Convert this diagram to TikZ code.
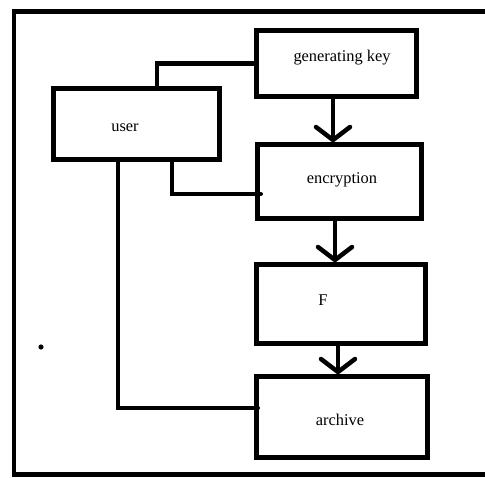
\documentclass[tikz,border=0pt]{standalone}
\usepackage{fontspec}
\setmainfont{Liberation Serif}
\usetikzlibrary{arrows.meta}
\begin{document}
\begin{tikzpicture}[x=1pt,y=1pt,
  box/.style={draw=black,line width=4.5pt,fill=none,inner sep=0pt,rectangle},
  lbl/.style={inner sep=0pt,font=\fontsize{16.4}{18}\selectfont},
  conn/.style={draw=black,line width=4.5pt},
  arr/.style={conn,-{Straight Barb[length=13pt,width=34pt,line width=4.5pt,round]}}
]
\useasboundingbox (0,0) rectangle (485,477);
% frame
\draw[line width=4.5pt] (485,465.5) -- (14,465.5) -- (14,2.5) -- (485,2.5);
% boxes
\node[box,minimum width=160pt,minimum height=66pt] (gk) at (336.5,413.5) {};
\node[box,minimum width=166pt,minimum height=71pt] (user) at (136.5,353) {};
\node[box,minimum width=164pt,minimum height=74pt] (enc) at (339.5,295.5) {};
\node[box,minimum width=169pt,minimum height=79pt] (F) at (341,173) {};
\node[box,minimum width=171pt,minimum height=81pt] (arch) at (342,60) {};
% labels
\node[lbl] (gkT) at (342,419) {generating key};
\node[lbl] (userT) at (125,349) {user};
\node[lbl] (encT) at (342,297) {encryption};
\node[lbl] (FT) at (323,177) {F};
\node[lbl] (archT) at (340,57) {archive};
% connectors
\draw[conn] (gk.west) -| ([xshift=20.5pt]user.north);
\draw[conn,line cap=round] ([xshift=35.5pt]user.south) |- ([xshift=5.5pt,yshift=-12.5pt]enc.west);
\draw[conn,line cap=round] ([xshift=-18.5pt]user.south) |- ([xshift=3.5pt,yshift=9pt]arch.west);
\draw[arr] ([xshift=-3.5pt]gk.south) -- ([xshift=-6.5pt]enc.north);
\draw[arr] ([xshift=-4.5pt]enc.south) -- ([xshift=-6pt]F.north);
\draw[arr] ([xshift=-3pt]F.south) -- ([xshift=-4pt]arch.north);
% stray dot
\fill (41,130) circle (2.6pt);
\end{tikzpicture}
\end{document}
